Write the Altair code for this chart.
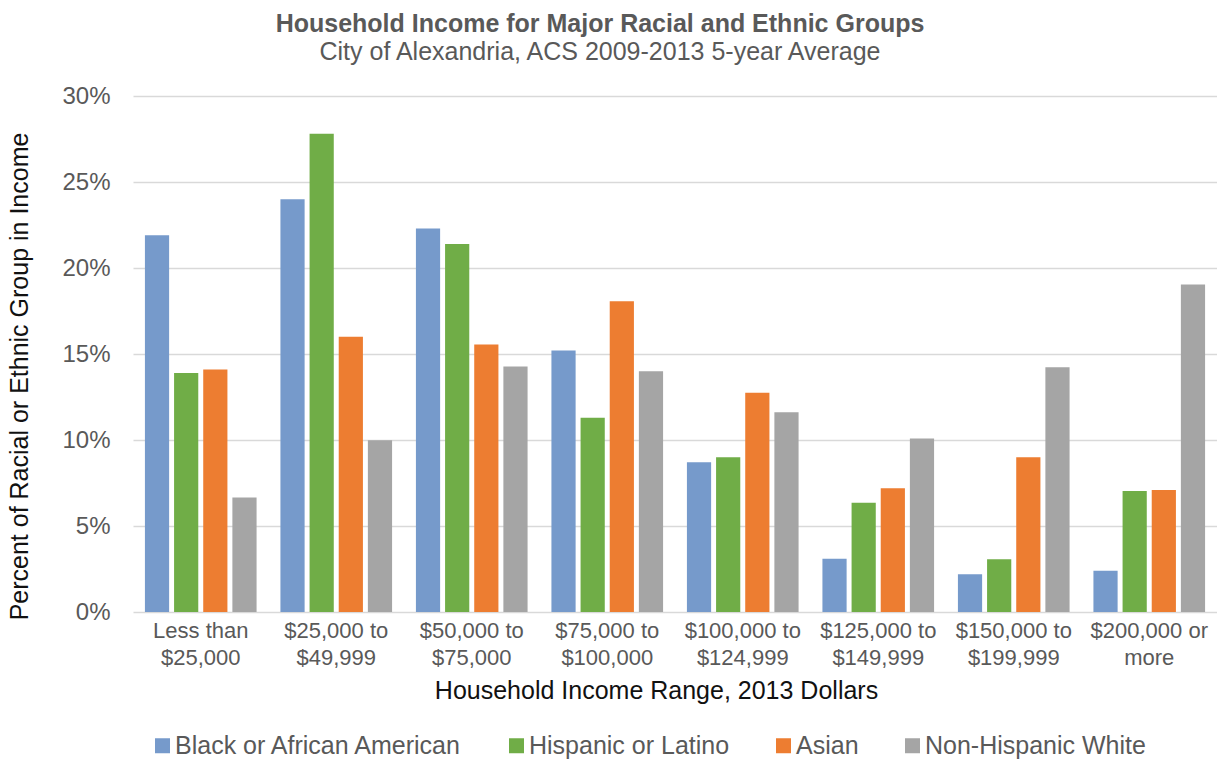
import altair as alt
import pandas as pd

categories = ["Less than|$25,000", "$25,000 to|$49,999", "$50,000 to|$75,000",
              "$75,000 to|$100,000", "$100,000 to|$124,999", "$125,000 to|$149,999",
              "$150,000 to|$199,999", "$200,000 or|more"]
groups = ["Black or African American", "Hispanic or Latino", "Asian", "Non-Hispanic White"]
black = [21.9, 24.0, 22.3, 15.2, 8.7, 3.1, 2.2, 2.4]
hispanic = [13.9, 27.8, 21.4, 11.3, 9.0, 6.35, 3.07, 7.03]
asian = [14.1, 16.0, 15.55, 18.06, 12.75, 7.2, 9.0, 7.09]
white = [6.65, 9.98, 14.27, 14.0, 11.62, 10.08, 14.23, 19.04]
colors = ["#769ACB", "#70AD47", "#ED7D31", "#A5A5A5"]
y_ticks = [0, 5, 10, 15, 20, 25, 30]

rows = []
for i, c in enumerate(categories):
    for g, vals in zip(groups, [black, hispanic, asian, white]):
        rows.append({"range": c, "group": g, "value": vals[i]})
df = pd.DataFrame(rows)

FONT = "Liberation Sans"

chart = alt.Chart(df).mark_bar().encode(
    x=alt.X("range:N", sort=categories,
            scale=alt.Scale(paddingInner=0.176, paddingOuter=0.088),
            axis=alt.Axis(title="Household Income Range, 2013 Dollars",
                          labelExpr="split(datum.label, '|')",
                          labelAngle=0, labelFontSize=22, labelColor="#595959",
                          labelLineHeight=27, labelPadding=8,
                          ticks=False, domain=False, grid=False,
                          titleFontSize=25, titleFontWeight="normal", titleColor="#111111",
                          titlePadding=10, titleX=523)),
    xOffset=alt.XOffset("group:N", sort=groups, scale=alt.Scale(paddingInner=0.17)),
    y=alt.Y("value:Q", scale=alt.Scale(domain=[0, 30]),
            axis=alt.Axis(title="Percent of Racial or Ethnic Group in Income",
                          values=y_ticks, labelExpr="datum.value + '%'",
                          labelFontSize=24, labelColor="#595959", labelPadding=23,
                          ticks=False, domain=False,
                          grid=True, gridColor="#D9D9D9", gridWidth=1.5,
                          titleFontSize=25, titleFontWeight="normal", titleColor="#111111",
                          titlePadding=29, titleY=280)),
    color=alt.Color("group:N", sort=groups,
                    scale=alt.Scale(domain=groups, range=colors),
                    legend=alt.Legend(title=None, orient="none", legendX=17, legendY=637,
                                      direction="horizontal", columns=4,
                                      symbolType="square", symbolSize=225,
                                      symbolStrokeWidth=0, labelFontSize=25,
                                      labelColor="#595959", labelOffset=0,
                                      labelLimit=500, columnPadding=41)),
).properties(
    width=1084, height=516,
    autosize=alt.AutoSizeParams(type="none"),
    padding={"left": 125, "top": 88, "right": 0, "bottom": 147},
    title=alt.Title(text="Household Income for Major Racial and Ethnic Groups",
                    subtitle="City of Alexandria, ACS 2009-2013 5-year Average",
                    fontSize=25, fontWeight="bold", color="#595959",
                    subtitleFontSize=25, subtitleColor="#595959",
                    font=FONT, subtitleFont=FONT,
                    anchor="middle", dx=-75, offset=19, subtitlePadding=3),
).configure(font=FONT).configure_view(strokeWidth=0)

chart.save("out.html", embed_options={"renderer": "svg", "actions": False})
